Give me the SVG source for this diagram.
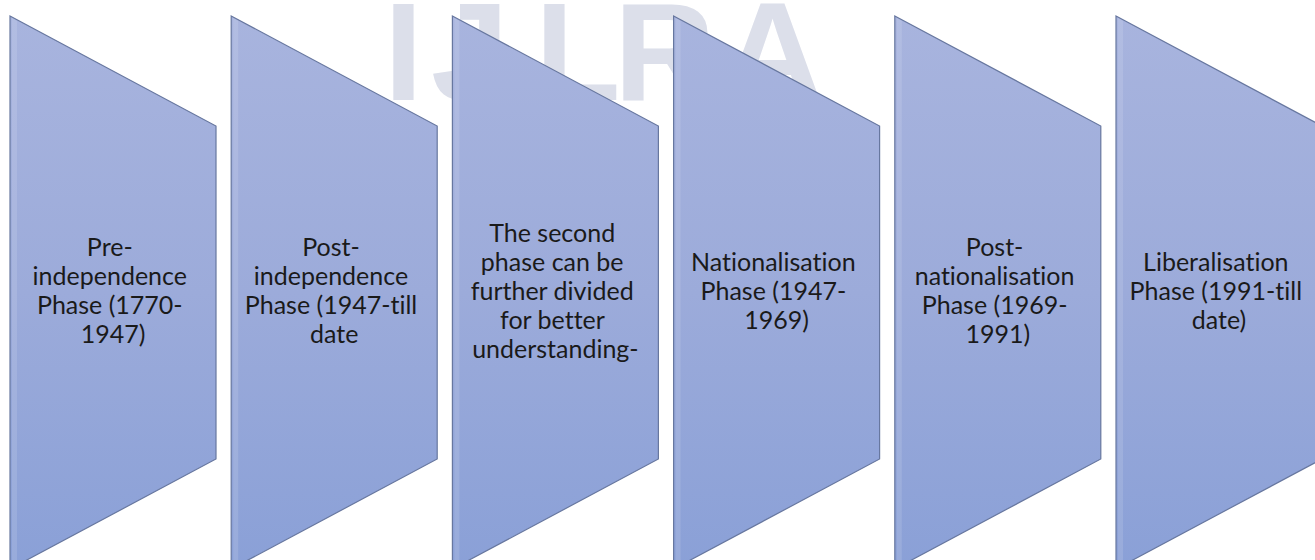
<svg xmlns="http://www.w3.org/2000/svg" width="1315" height="560" viewBox="0 0 1315 560">
  <defs>
    <linearGradient id="phaseFill" x1="0" y1="0" x2="0" y2="1">
      <stop offset="0" stop-color="#a8b4de"/>
      <stop offset="0.5" stop-color="#9cabda"/>
      <stop offset="1" stop-color="#8aa0d7"/>
    </linearGradient>
    <!-- one phase panel: flat left edge, slanted top and bottom -->
    <path id="panel" d="M0 16 L206 126 L206 459 L0 569 Z"/>
    <path id="sheen" d="M2 18 L7 20.7 L7 566.3 L2 567 Z"/>
  </defs>
  <style>
    .wm { font-family: "Liberation Sans", Arial, sans-serif; font-weight: bold; font-size: 140px; fill: #dcdfea; }
    .panel { fill: url(#phaseFill); stroke: #67779f; stroke-width: 1.2; }
    .sheen { fill: #ffffff; opacity: 0.12; }
    .label { font-family: Lato, "Open Sans", "Liberation Sans", sans-serif; font-size: 25px; fill: #1a1a1a; text-anchor: middle; font-variant-ligatures: none; font-feature-settings: "liga" 0, "clig" 0; }
  </style>
  <rect width="1315" height="560" fill="#ffffff"/>

  <!-- background mark -->
  <text class="wm" y="100"><tspan x="384">I</tspan><tspan x="431">J</tspan><tspan x="535">L</tspan><tspan x="614">R</tspan><tspan x="722">A</tspan></text>

  <g id="connectors"/>

  <g id="phase-pre-independence" transform="translate(10 0)">
    <use href="#panel" class="panel"/>
    <use href="#sheen" class="sheen"/>
    <text class="label" x="103" y="256">
      <tspan x="103">Pre-</tspan>
      <tspan x="103" dy="29">independence</tspan>
      <tspan x="103" dy="29">Phase (1770-</tspan>
      <tspan x="103" dy="29">1947)</tspan>
    </text>
  </g>

  <g id="phase-post-independence" transform="translate(231.2 0)">
    <use href="#panel" class="panel"/>
    <use href="#sheen" class="sheen"/>
    <text class="label" x="103" y="256">
      <tspan x="103">Post-</tspan>
      <tspan x="103" dy="29">independence</tspan>
      <tspan x="103" dy="29">Phase (1947-till</tspan>
      <tspan x="103" dy="29">date</tspan>
    </text>
  </g>

  <g id="phase-subdivision-note" transform="translate(452.4 0)">
    <use href="#panel" class="panel"/>
    <use href="#sheen" class="sheen"/>
    <text class="label" x="103" y="241.5">
      <tspan x="103">The second</tspan>
      <tspan x="103" dy="29">phase can be</tspan>
      <tspan x="103" dy="29">further divided</tspan>
      <tspan x="103" dy="29">for better</tspan>
      <tspan x="103" dy="29">understanding-</tspan>
    </text>
  </g>

  <g id="phase-nationalisation" transform="translate(673.6 0)">
    <use href="#panel" class="panel"/>
    <use href="#sheen" class="sheen"/>
    <text class="label" x="103" y="270.5">
      <tspan x="103">Nationalisation</tspan>
      <tspan x="103" dy="29">Phase (1947-</tspan>
      <tspan x="103" dy="29">1969)</tspan>
    </text>
  </g>

  <g id="phase-post-nationalisation" transform="translate(894.8 0)">
    <use href="#panel" class="panel"/>
    <use href="#sheen" class="sheen"/>
    <text class="label" x="103" y="256">
      <tspan x="103">Post-</tspan>
      <tspan x="103" dy="29">nationalisation</tspan>
      <tspan x="103" dy="29">Phase (1969-</tspan>
      <tspan x="103" dy="29">1991)</tspan>
    </text>
  </g>

  <g id="phase-liberalisation" transform="translate(1116 0)">
    <use href="#panel" class="panel"/>
    <use href="#sheen" class="sheen"/>
    <text class="label" x="103" y="270.5">
      <tspan x="103">Liberalisation</tspan>
      <tspan x="103" dy="29">Phase (1991-till</tspan>
      <tspan x="103" dy="29">date)</tspan>
    </text>
  </g>
</svg>
